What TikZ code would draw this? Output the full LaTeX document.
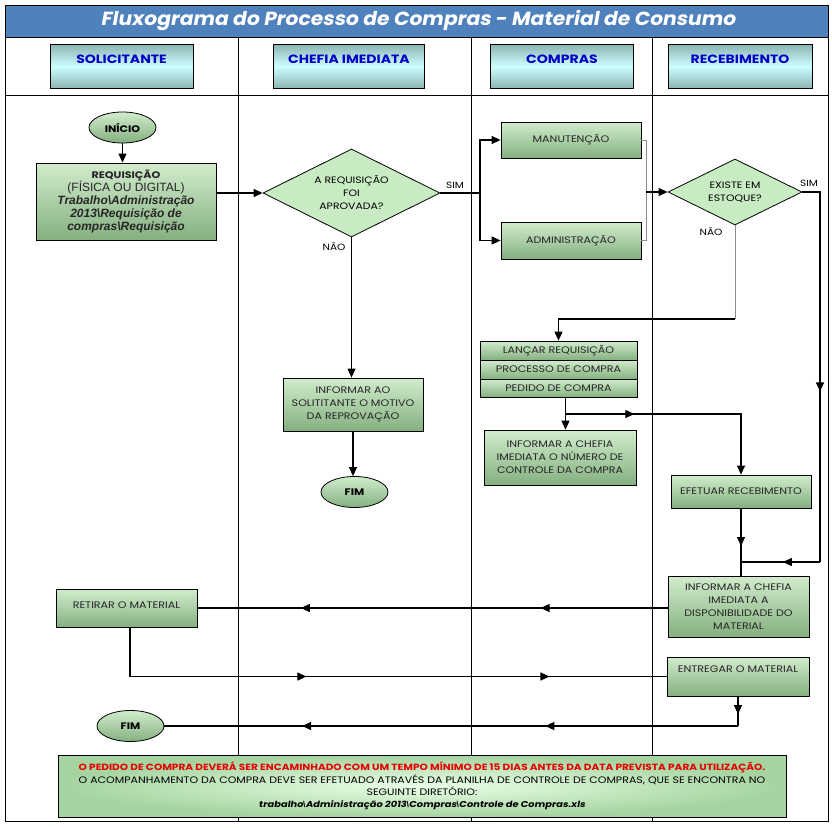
\documentclass[tikz,border=0pt]{standalone}
\usepackage{fontspec}
\setmainfont{Poppins}[FakeStretch=1.17]
\newfontfamily\arialfont{Liberation Sans}
\newfontfamily\slantfont{Poppins}[FakeSlant=0.18, FakeStretch=1.17]
\newfontfamily\titlefont{Poppins}[FakeSlant=0.18, FakeStretch=1.07]
\usepackage{xcolor}
\usetikzlibrary{shapes, arrows.meta, decorations.markings}
\definecolor{titleblue}{RGB}{79,129,189}
\definecolor{headtop}{RGB}{140,180,180}
\definecolor{headmid}{RGB}{205,255,255}
\definecolor{headtext}{RGB}{0,0,200}
\definecolor{boxtop}{RGB}{210,236,205}
\definecolor{boxbot}{RGB}{132,176,128}
\definecolor{diamfill}{RGB}{200,235,195}
\definecolor{noteinner}{RGB}{235,255,232}
\definecolor{noteouter}{RGB}{165,212,160}
\definecolor{notered}{RGB}{230,0,0}
\tikzset{
  >={Triangle[length=9pt, width=8pt]},
  line/.style={line width=1.1pt},
  greyline/.style={line width=1pt, draw=black!45},
  header/.style={draw, line width=0.8pt, top color=headtop, bottom color=headtop,
    middle color=headmid, text height=19pt, text depth=25pt, inner ysep=0pt,
    font=\bfseries\fontsize{12}{14}\selectfont, text=headtext},
  box/.style={draw, line width=0.8pt, top color=boxtop, bottom color=boxbot,
    align=center, inner sep=1pt, text=black!85,
    font=\fontsize{9.5}{13}\selectfont},
  term/.style={ellipse, draw, line width=0.8pt, top color=boxtop, bottom color=boxbot,
    minimum width=67pt, minimum height=31pt, inner sep=0pt,
    font=\bfseries\fontsize{9.5}{12}\selectfont},
  decision/.style={diamond, aspect=2, draw, line width=0.8pt, fill=diamfill,
    inner sep=0pt, align=center, font=\fontsize{9.3}{13}\selectfont},
  lbl/.style={inner sep=0pt, font=\fontsize{9}{11}\selectfont},
  ->-/.style={
    line,
    postaction = {decorate},
    decoration = {
      markings,
      mark = at position #1 with {
        \arrow{>}
      }
    }
  },
  ->-/.default = 0.5,
  ->->-/.style 2 args={
    line,
    postaction = {decorate},
    decoration = {
      markings,
      mark = at position #1 with {\arrow{>}},
      mark = at position #2 with {\arrow{>}}
    }
  }
}
\newcommand\bsl{{\arialfont\bfseries\textbackslash}}
\newcommand\arialit{\arialfont\bfseries\itshape\fontsize{12}{13}\selectfont}
\begin{document}
\begin{tikzpicture}[x=1pt, y=-1pt]
\useasboundingbox (0,0) rectangle (832,827);
% moldura e raias
\fill[titleblue] (5,5) rectangle (828,37);
\draw[line width=0.9pt] (5,5) rectangle (828,821);
\draw (5,37) -- (828,37) (5,95) -- (828,95);
\foreach \x in {238,471,652}
  \draw (\x,37) -- (\x,821);
\node[font=\titlefont\bfseries\fontsize{19}{22}\selectfont, text=white] (Titulo) at (418,21)
  {Fluxograma do Processo de Compras - Material de Consumo};

\node[header, anchor=north, minimum width=143pt] (hSol) at (121.5,44) {SOLICITANTE};
\node[header, anchor=north, minimum width=151pt] (hChefia) at (349,44) {CHEFIA IMEDIATA};
\node[header, anchor=north, minimum width=143pt] (hCompras) at (562,44) {COMPRAS};
\node[header, anchor=north, minimum width=144pt] (hReceb) at (740,44) {RECEBIMENTO};

% solicitante
\node[term] (Inicio) at (122.5,127.5) {INÍCIO};
\node[box, minimum width=180pt, minimum height=77pt, line width=1pt] (Req) at (126,201.5)
  {{\bfseries REQUISIÇÃO}\\
   {\arialfont\fontsize{12}{13}\selectfont (FÍSICA OU DIGITAL)}\\
   {\arialit Trabalho\textbackslash Administração}\\
   {\arialit 2013\textbackslash Requisição de}\\
   {\arialit compras\textbackslash Requisição}};
\node[box, minimum width=141pt, minimum height=38pt, text depth=6pt] (Retirar) at (126.5,608) {RETIRAR O MATERIAL};
\node[term] (Fim2) at (130.5,726) {FIM};

% chefia imediata
\node[decision, minimum width=177pt, minimum height=88pt] (Aprov) at (351.5,193)
  {A REQUISIÇÃO\\FOI\\APROVADA?};
\node[lbl] (SimA) at (455,185) {SIM};
\node[lbl] (NaoA) at (334,247) {NÃO};
\node[box, minimum width=140pt, minimum height=53pt] (InfAo) at (353,404.5)
  {INFORMAR AO\\SOLITITANTE O MOTIVO\\DA REPROVAÇÃO};
\node[term] (Fim1) at (354.5,492) {FIM};

% compras
\node[box, minimum width=140pt, minimum height=36pt] (Manut) at (571,140) {MANUTENÇÃO};
\node[box, minimum width=140pt, minimum height=37pt] (Admin) at (571,240.5) {ADMINISTRAÇÃO};
\node[box, minimum width=157pt, minimum height=19pt] (Lanc) at (558.5,350.5) {LANÇAR REQUISIÇÃO};
\node[box, minimum width=157pt, minimum height=19pt] (Proc) at (558.5,369.5) {PROCESSO DE COMPRA};
\node[box, minimum width=157pt, minimum height=18pt] (Ped) at (558.5,388) {PEDIDO DE COMPRA};
\node[box, minimum width=152pt, minimum height=55pt] (InfNum) at (560,457.5)
  {INFORMAR A CHEFIA\\IMEDIATA O NÚMERO DE\\CONTROLE DA COMPRA};

% recebimento
\node[decision, minimum width=134pt, minimum height=66pt] (Estoque) at (735,192)
  {EXISTE EM\\ESTOQUE?};
\node[lbl] (SimE) at (809,183) {SIM};
\node[lbl] (NaoE) at (711,232) {NÃO};
\node[box, minimum width=140pt, minimum height=33pt] (Efet) at (741,491.5) {EFETUAR RECEBIMENTO};
\node[box, minimum width=141pt, minimum height=61pt] (InfDisp) at (738.5,606.5)
  {INFORMAR A CHEFIA\\IMEDIATA A\\DISPONIBILIDADE DO\\MATERIAL};
\node[box, minimum width=142pt, minimum height=39pt, text depth=14pt] (Entregar) at (738,676.5) {ENTREGAR O MATERIAL};

\node[draw, line width=0.8pt, inner color=noteinner, outer color=noteouter,
  minimum width=728pt, minimum height=62pt, align=center, inner sep=0pt,
  font=\fontsize{9.4}{12.3}\selectfont] (Nota) at (422,786)
  {{\color{notered}\bfseries\fontsize{9}{12.3}\selectfont O PEDIDO DE COMPRA DEVERÁ SER ENCAMINHADO COM UM TEMPO MÍNIMO DE 15 DIAS ANTES DA DATA PREVISTA PARA UTILIZAÇÃO.}\\
   O ACOMPANHAMENTO DA COMPRA DEVE SER EFETUADO ATRAVÉS DA PLANILHA DE CONTROLE DE COMPRAS, QUE SE ENCONTRA NO\\
   SEGUINTE DIRETÓRIO:\\
   {\slantfont\bfseries\fontsize{8.5}{12.3}\selectfont trabalho\bsl Administração 2013\bsl Compras\bsl Controle de Compras.xls}};

\coordinate (Split) at (480,193);
\coordinate (Merge) at (646,192);
\coordinate (NaoBend) at (735,319);
\coordinate (Ramo) at (566,414);
\coordinate (SimDown) at (820,562);
\coordinate (SimJoin) at (Efet.south |- SimDown);
\coordinate (EntBend) at (Entregar.south |- Fim2.east);

\draw[line, ->] (Inicio.south) -- (Inicio.south |- Req.north);
\draw[line, ->] (Req.east |- Aprov.west) -- (Aprov.west);
\draw[line] (Aprov.east) -- (Split);
\draw[line, ->] (Split) |- (Manut.west);
\draw[line, ->] (Split) |- (Admin.west);
\draw[line, ->] (Aprov.south) -- (Aprov.south |- InfAo.north);
\draw[line, ->] (InfAo.south) -- (InfAo.south |- Fim1.north);
\draw[greyline] (Manut.east) -| (Merge) (Admin.east) -| (Merge);
\draw[line, ->] (Merge) -- (Estoque.west);
\draw[greyline] (Estoque.south) -- (NaoBend);
\draw[line, ->] (NaoBend) -| (Lanc.north);
\draw[line, ->] ([xshift=7pt]Ped.south) -- ([xshift=7pt]Ped.south |- InfNum.north);
\draw[->-=0.29, ->] (Ramo) -| (Efet.north);
\draw[->-=0.56] (Efet.south) -- (Efet.south |- InfDisp.north);
\draw[->-=0.56] (Estoque.east) -| (SimDown);
\draw[->-=0.47] (SimDown) -- (SimJoin);
\draw[->->-={0.27}{0.78}] (InfDisp.west |- Retirar.east) -- (Retirar.east);
\draw[->->-={0.385}{0.8}] ([xshift=3.5pt]Retirar.south) |- (Entregar.west);
\draw[->-=0.6] (Entregar.south) -- (EntBend);
\draw[->->-={0.336}{0.76}] (EntBend) -- (Fim2.east);
\end{tikzpicture}
\end{document}
